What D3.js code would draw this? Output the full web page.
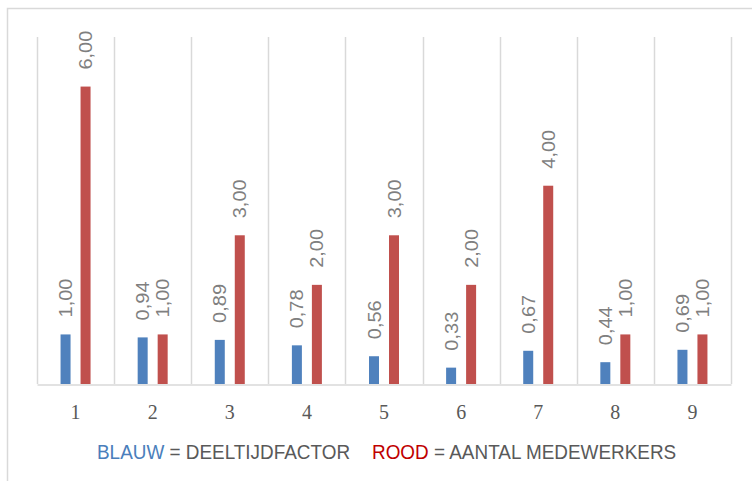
<!DOCTYPE html>
<html>
<head>
<meta charset="utf-8">
<script src="https://cdn.jsdelivr.net/npm/d3@7"></script>
<style>
  html, body { margin: 0; padding: 0; background: #fff; }
  svg { display: block; }
</style>
</head>
<body>
<svg id="chart" width="752" height="481"></svg>
<script>
// Team members per category: part-time factor (blue) and headcount (red)
const categories = ["1", "2", "3", "4", "5", "6", "7", "8", "9"];
const deeltijdfactor = [1.00, 0.94, 0.89, 0.78, 0.56, 0.33, 0.67, 0.44, 0.69];
const aantalMedewerkers = [6, 1, 3, 2, 3, 2, 4, 1, 1];
const seriesKeys = ["blauw", "rood"];
const seriesColors = { blauw: "#4f81bd", rood: "#c0504d" };

const svg = d3.select("#chart");
const W = 752, H = 481;
const plot = { left: 37, right: 731, top: 37, bottom: 384 };

// chart frame
svg.append("rect")
  .attr("x", 7.5).attr("y", 8.5)
  .attr("width", W).attr("height", H)
  .attr("fill", "#fff").attr("stroke", "#d9d9d9").attr("stroke-width", 1.5);

const x = d3.scaleBand().domain(categories).range([plot.left, plot.right]).padding(0);
const inner = d3.scaleBand().domain(seriesKeys).range([0, 30]).paddingInner(0.5).paddingOuter(0);
const y = d3.scaleLinear().domain([0, 7]).range([plot.bottom, plot.top]);

// vertical gridlines on category boundaries
const edges = categories.map(c => x(c)).concat([x.range()[1]]);
svg.append("g").selectAll("line").data(edges).join("line")
  .attr("x1", d => Math.round(d) + 0.5).attr("x2", d => Math.round(d) + 0.5)
  .attr("y1", y(7)).attr("y2", y(0))
  .attr("stroke", "#d9d9d9").attr("stroke-width", 1.5);

// category axis
const xAxis = svg.append("g")
  .attr("transform", `translate(0,${y(0) + 0.5})`)
  .call(d3.axisBottom(x).tickSize(0).tickPadding(0));
xAxis.select(".domain").attr("stroke", "#d9d9d9").attr("stroke-width", 1.5);
xAxis.selectAll(".tick text")
  .attr("y", 0).attr("dy", null)
  .attr("transform", "translate(0,34.5) scale(0.95,1)")
  .attr("font-family", "'Liberation Serif', 'Times New Roman', serif")
  .attr("font-size", 21)
  .attr("fill", "#595959");

const rows = categories.map((c, i) => ({
  cat: c,
  values: { blauw: deeltijdfactor[i], rood: aantalMedewerkers[i] }
}));
const bars = rows.flatMap(r => seriesKeys.map(k => ({ cat: r.cat, key: k, value: r.values[k] })));
const barX = d => x(d.cat) + x.bandwidth() / 2 - 15 + inner(d.key);

svg.append("g").selectAll("rect").data(bars).join("rect")
  .attr("x", barX)
  .attr("y", d => y(d.value))
  .attr("width", inner.bandwidth())
  .attr("height", d => y(0) - y(d.value))
  .attr("fill", d => seriesColors[d.key]);

// rotated value labels above each bar
const fmt = v => v.toFixed(2).replace(".", ",");
svg.append("g").selectAll("text").data(bars).join("text")
  .attr("transform", d => {
    const cx = barX(d) + inner.bandwidth() / 2 + 6.6;
    return `translate(${cx},${y(d.value) - 17}) scale(0.92,1) rotate(-90)`;
  })
  .attr("text-anchor", "start")
  .attr("font-family", "'Liberation Sans', Arial, sans-serif")
  .attr("font-size", 20)
  .attr("fill", "#7f7f7f")
  .text(d => fmt(d.value));

// legend
const legend = [
  { x: 97, key: "BLAUW", color: "#4a7ebb", rest: " = DEELTIJDFACTOR" },
  { x: 372, key: "ROOD", color: "#c00000", rest: " = AANTAL MEDEWERKERS" }
];
const lt = svg.append("g").selectAll("text").data(legend).join("text")
  .attr("transform", d => `translate(${d.x},459) scale(0.97,1)`)
  .attr("font-family", "'Liberation Sans', Arial, sans-serif")
  .attr("font-size", 19.5)
  .attr("fill", "#595959");
lt.append("tspan").attr("fill", d => d.color).text(d => d.key);
lt.append("tspan").text(d => d.rest);
</script>
</body>
</html>
